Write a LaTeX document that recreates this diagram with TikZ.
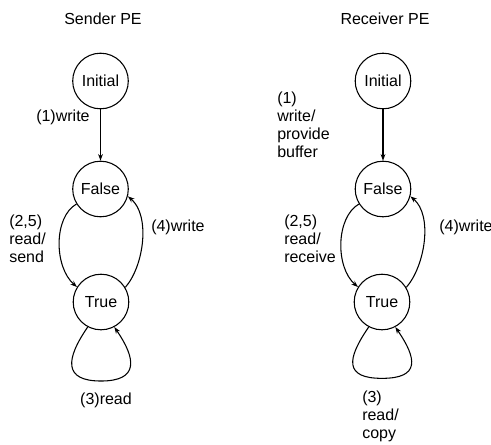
\documentclass[tikz,border=0pt]{standalone}
\usepackage{fontspec}
\setmainfont{Liberation Sans}
\usetikzlibrary{arrows.meta}
\begin{document}
\begin{tikzpicture}[x=0.75pt,y=-0.75pt,
  every node/.style={font=\fontsize{12}{13.6}\selectfont, inner sep=0pt},
  state/.style={draw, circle, line width=0.8pt, minimum size=41.7pt, inner sep=0pt},
  lbl/.style={align=left, anchor=west},
  conn/.style={line width=0.8pt, -{Stealth[length=5pt,width=3.6pt]}}]
\useasboundingbox (0,0) rectangle (491,444);
% Sender
\node (st) at (103,19) {Sender PE};
\node[state] (I1) at (100.5,81) {Initial};
\node[state] (F1) at (100.5,189) {False};
\node[state] (T1) at (101,302) {True};
\node[lbl] (l11) at (36,117) {(1)write};
\node[lbl] (l12) at (9,239) {(2,5)\\read/\\send};
\node[lbl] (l14) at (151,227) {(4)write};
\node (l13) at (106,400) {(3)read};
\draw[conn] (I1) -- (F1);
\draw[conn] (F1.212) .. controls +(-23,13) and +(-23,-20) .. (T1.148);
\draw[conn] (T1.31) .. controls +(19,-22) and +(22.6,18.8) .. (F1.345);
\coordinate (b1) at ([yshift=-38pt]T1.south);
\draw[line width=0.8pt] (T1.242) .. controls +(-22,32) and +(-38,0) .. (b1);
\draw[conn] (b1) .. controls +(38,0) and +(22,32) .. (T1.298);
% Receiver
\node (rt) at (385,19) {Receiver PE};
\node[state] (I2) at (383,81) {Initial};
\node[state] (F2) at (383,189) {False};
\node[state] (T2) at (382,302) {True};
\node[lbl] (l21) at (277,125) {(1)\\write/\\provide\\buffer};
\node[lbl] (l22) at (284,239) {(2,5)\\read/\\receive};
\node[lbl] (l24) at (439,227) {(4)write};
\node[lbl] (l23) at (362,416) {(3)\\read/\\copy};
\draw[conn] (I2) -- (F2);
\draw[conn] (F2.212) .. controls +(-23,13) and +(-23,-20) .. (T2.148);
\draw[conn] (T2.31) .. controls +(19,-22) and +(22.6,18.8) .. (F2.345);
\coordinate (b2) at ([yshift=-36pt]T2.south);
\draw[line width=0.8pt] (T2.242) .. controls +(-22,32) and +(-38,0) .. (b2);
\draw[conn] (b2) .. controls +(38,0) and +(22,32) .. (T2.298);
\end{tikzpicture}
\end{document}
